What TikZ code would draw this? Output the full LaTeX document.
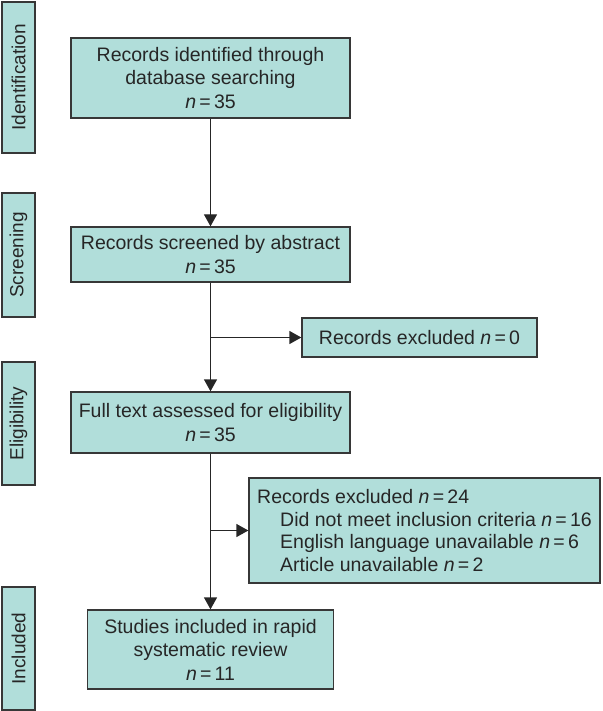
\documentclass[tikz,border=0pt]{standalone}
\usepackage{fontspec}
\setmainfont{Liberation Sans}
\usetikzlibrary{arrows.meta}
\definecolor{boxfill}{RGB}{177,222,218}
\definecolor{boxline}{RGB}{55,55,55}
\definecolor{txt}{RGB}{38,38,38}
\newcommand{\nval}[1]{\textit{n}\,=\,#1}

\begin{document}
\begin{tikzpicture}
      [%%%%%%%%%%%%%%%%%%%%%%%%%%%%%%
      x=1pt,y=-1pt,
      box/.style={rectangle,draw=boxline,fill=boxfill,line width=1.3pt,text=txt,
        inner sep=0pt,align=center,font=\fontsize{19.5}{23.5}\selectfont},
      stage/.style={box,rotate=90,minimum height=33pt,font=\fontsize{19}{23}\selectfont},
      flow/.style={draw=black!85,line width=1.3pt,-{Triangle[length=12pt,width=13pt]}},
      ]%%%%%%%%%%%%%%%%%%%%%%%%%%%%%%
      \useasboundingbox (0,0) rectangle (602,711);

      % stages
      \node[stage,minimum width=151pt] (ident) at (18.5,77.5) {Identification};
      \node[stage,minimum width=124pt] (screen) at (18.5,255) {Screening};
      \node[stage,minimum width=123pt] (elig) at (18.5,423.5) {Eligibility};
      \node[stage,minimum width=123pt] (incl) at (18.5,648.5) {Included};

      % main column
      \node[box,minimum width=279pt,minimum height=80pt] (found) at (210.5,78)
        {Records identified through\\database searching\\\nval{35}};
      \node[box,minimum width=279pt,minimum height=55pt] (screened) at (210.5,254.5)
        {Records screened by abstract\\\nval{35}};
      \node[box,minimum width=279pt,minimum height=61pt] (fulltext) at (210.5,422.5)
        {Full text assessed for eligibility\\\nval{35}};
      \node[box,minimum width=246pt,minimum height=79pt] (studies) at (210.5,649.5)
        {Studies included in rapid\\systematic review\\\nval{11}};

      % excluded
      \node[box,minimum width=235pt,minimum height=39pt] (excla) at (419.5,337.5)
        {Records excluded \nval{0}};
      \node[box,minimum width=351pt,minimum height=105pt,align=left,
        font=\fontsize{19.5}{22.7}\selectfont] (exclb) at (424.5,530.5)
        {Records excluded \nval{24}\\
         \hspace*{23pt}Did not meet inclusion criteria \nval{16}\\
         \hspace*{23pt}English language unavailable \nval{6}\\
         \hspace*{23pt}Article unavailable \nval{2}};

      \draw[flow] (found) -- (screened);
      \draw[flow] (screened) -- (fulltext);
      \draw[flow] (screened.south |- excla.west) -- (excla.west);
      \draw[flow] (fulltext) -- (studies);
      \draw[flow] (fulltext.south |- exclb.west) -- (exclb.west);
    \end{tikzpicture}
\end{document}
